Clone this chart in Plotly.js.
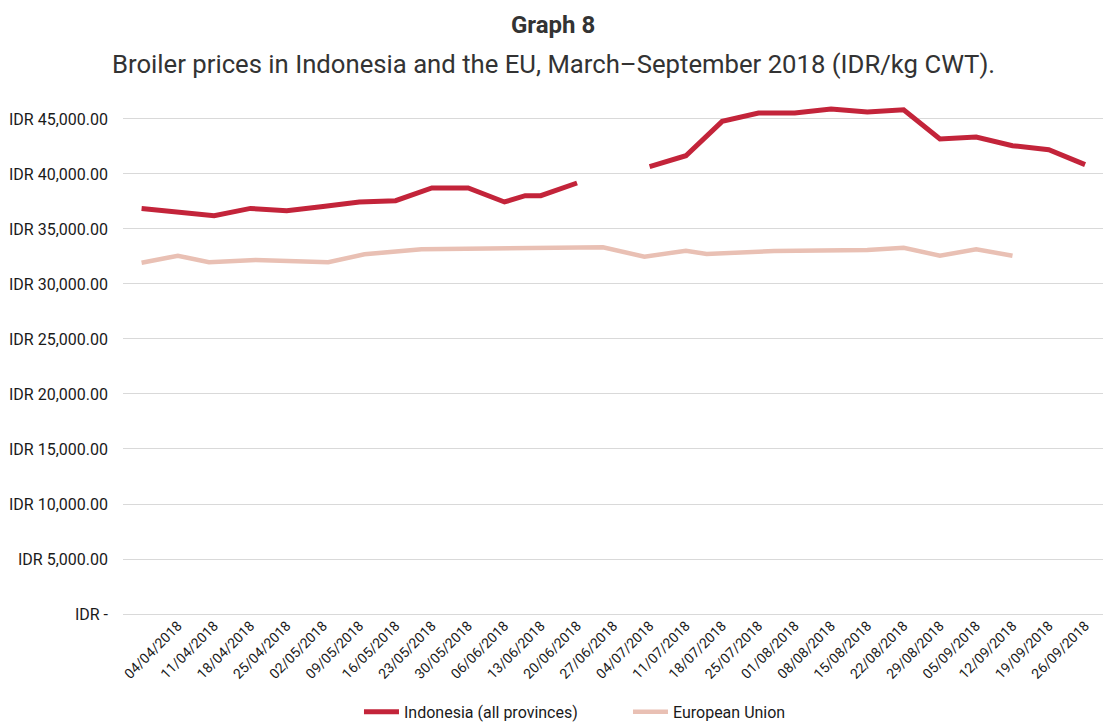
<!DOCTYPE html>
<html>
<head>
<meta charset="utf-8">
<script src="https://cdn.plot.ly/plotly-3.0.1.min.js"></script>
<style>
  html, body { margin: 0; padding: 0; background: #ffffff; }
  #chart { width: 1106px; height: 722px; }
</style>
</head>
<body>
<div id="chart"></div>
<script>
// ---- Data ----
const indoDates = [
  '2018-03-28','2018-04-04','2018-04-11','2018-04-18','2018-04-25','2018-05-02',
  '2018-05-09','2018-05-16','2018-05-23','2018-05-30','2018-06-06','2018-06-10',
  '2018-06-13','2018-06-20','2018-06-27','2018-07-04','2018-07-11','2018-07-18',
  '2018-07-25','2018-08-01','2018-08-08','2018-08-15','2018-08-22','2018-08-29',
  '2018-09-05','2018-09-12','2018-09-19','2018-09-26'
];
const indonesia = [
  36870, 36560, 36210, 36870, 36660, 37050,
  37460, 37570, 38730, 38730, 37455, 38030,
  38030, 39180, null, 40660, 41660, 44780,
  45545, 45545, 45910, 45640, 45845, 43180,
  43360, 42570, 42210, 40850
];

const euDates = [
  '2018-03-28','2018-04-04','2018-04-10','2018-04-19','2018-05-03','2018-05-10',
  '2018-05-21','2018-06-25','2018-07-03','2018-07-11','2018-07-15','2018-07-28',
  '2018-08-15','2018-08-22','2018-08-29','2018-09-05','2018-09-12'
];
const eu = [
  31936, 32570, 31973, 32180, 31973, 32700,
  33155, 33336, 32480, 33027, 32727, 33000,
  33090, 33300, 32572, 33155, 32572
];

const tickDates = [
  '2018-04-04','2018-04-11','2018-04-18','2018-04-25','2018-05-02','2018-05-09',
  '2018-05-16','2018-05-23','2018-05-30','2018-06-06','2018-06-13','2018-06-20',
  '2018-06-27','2018-07-04','2018-07-11','2018-07-18','2018-07-25','2018-08-01',
  '2018-08-08','2018-08-15','2018-08-22','2018-08-29','2018-09-05','2018-09-12',
  '2018-09-19','2018-09-26'
];
const tickLabels = [
  '04/04/2018','11/04/2018','18/04/2018','25/04/2018','02/05/2018','09/05/2018',
  '16/05/2018','23/05/2018','30/05/2018','06/06/2018','13/06/2018','20/06/2018',
  '27/06/2018','04/07/2018','11/07/2018','18/07/2018','25/07/2018','01/08/2018',
  '08/08/2018','15/08/2018','22/08/2018','29/08/2018','05/09/2018','12/09/2018',
  '19/09/2018','26/09/2018'
];

const yTickVals = [0, 5000, 10000, 15000, 20000, 25000, 30000, 35000, 40000, 45000];
const yTickText = ['IDR -', 'IDR 5,000.00', 'IDR 10,000.00', 'IDR 15,000.00', 'IDR 20,000.00',
  'IDR 25,000.00', 'IDR 30,000.00', 'IDR 35,000.00', 'IDR 40,000.00', 'IDR 45,000.00'];

const seriesNames = ['Indonesia (all provinces)', 'European Union'];
const titleText = 'Graph 8';
const subtitleText = 'Broiler prices in Indonesia and the EU, March\u2013September 2018 (IDR/kg CWT).';

// ---- Chart ----
const FONT = 'Roboto, "Noto Sans", sans-serif';

const traces = [
  {
    x: indoDates, y: indonesia, name: seriesNames[0],
    type: 'scatter', mode: 'lines', connectgaps: false,
    line: { color: '#C3243A', width: 5 }
  },
  {
    x: euDates, y: eu, name: seriesNames[1],
    type: 'scatter', mode: 'lines',
    line: { color: '#E9C0B4', width: 4.5 }
  }
];

const layout = {
  width: 1106, height: 722,
  paper_bgcolor: '#ffffff', plot_bgcolor: '#ffffff',
  margin: { l: 123, r: 3, t: 95, b: 108 },
  font: { family: FONT, color: '#1a1a1a', size: 13 },
  showlegend: true,
  xaxis: {
    type: 'date',
    range: ['2018-03-24 10:00', '2018-09-29 11:00'],
    tickmode: 'array', tickvals: tickDates, ticktext: tickLabels,
    tickangle: -45,
    showgrid: false, zeroline: false, showline: false,
    ticks: '', ticklen: 0,
    tickfont: { family: FONT, size: 14, color: '#1a1a1a' }
  },
  yaxis: {
    range: [0, 47180],
    tickmode: 'array', tickvals: yTickVals, ticktext: yTickText,
    showgrid: true, gridcolor: '#d9d9d9', gridwidth: 1,
    zeroline: true, zerolinecolor: '#d9d9d9', zerolinewidth: 1,
    showline: false, ticks: '',
    ticklabelstandoff: 14,
    tickfont: { family: FONT, size: 16, color: '#1a1a1a' }
  },
  legend: {
    orientation: 'h',
    x: 0.2408, xanchor: 'left',
    yref: 'container', y: 0.0139, yanchor: 'middle',
    font: { family: FONT, size: 16, color: '#1a1a1a' },
    traceorder: 'normal',
    itemwidth: 35,
    entrywidth: 219
  },
  annotations: [
    {
      text: '<b>' + titleText + '</b>',
      xref: 'paper', yref: 'paper', x: 0.4388, y: 1.1349,
      xanchor: 'center', yanchor: 'middle', showarrow: false,
      font: { family: FONT, size: 24, color: '#333333' }
    },
    {
      text: subtitleText,
      xref: 'paper', yref: 'paper', x: 0.4388, y: 1.0600,
      xanchor: 'center', yanchor: 'middle', showarrow: false,
      font: { family: FONT, size: 25.7, color: '#333333' }
    }
  ]
};

Plotly.newPlot('chart', traces, layout, { displayModeBar: false, staticPlot: true });
</script>
</body>
</html>
